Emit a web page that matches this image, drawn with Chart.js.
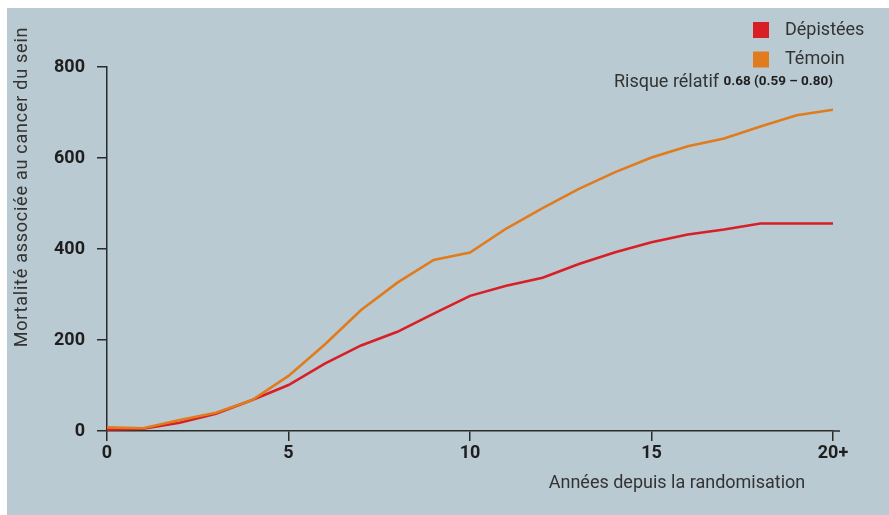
<!DOCTYPE html>
<html>
<head>
<meta charset="utf-8">
<script src="https://cdn.jsdelivr.net/npm/chart.js@4"></script>
<style>
html,body{margin:0;padding:0;background:#ffffff;}
#wrap{position:absolute;left:0;top:0;width:889px;height:515px;}
</style>
</head>
<body>
<div id="wrap"><canvas id="c" width="889" height="515"></canvas></div>
<script>
const years = [0,1,2,3,4,5,6,7,8,9,10,11,12,13,14,15,16,17,18,19,20];
const xTickLabels = {0:'0',5:'5',10:'10',15:'15',20:'20+'};
const yTicks = [0,200,400,600,800];
const depistees = [3,5,18,38,68,101,148,188,218,258,297,319,337,367,393,415,432,443,456,456,456];
const temoin = [8,6,24,40,68,121,190,266,326,376,392,445,490,532,569,601,626,643,669,694,706];
const seriesLabels = ['Dépistées','Témoin'];
const seriesColors = ['#d81f26','#e07b1e'];
const yTitle = 'Mortalité associée au cancer du sein';
const xTitle = 'Années depuis la randomisation';
const riskLabel = 'Risque rélatif';
const riskValue = '0.68 (0.59 – 0.80)';

const TXT = '#333333';
const AX = '#2a2a2a';

const deco = {
  id:'deco',
  beforeDraw(chart){
    const ctx = chart.ctx;
    ctx.save();
    ctx.fillStyle = '#bacad2';
    ctx.fillRect(7,8,882,507);
    ctx.restore();
  },
  afterDraw(chart){
    const ctx = chart.ctx;
    const xs = chart.scales.x, ys = chart.scales.y;
    ctx.save();
    ctx.strokeStyle = AX; ctx.lineWidth = 1.5;
    ctx.beginPath();
    ctx.moveTo(xs.right, ys.bottom); ctx.lineTo(xs.right+7, ys.bottom);
    ctx.stroke();
    // y title
    ctx.fillStyle = TXT;
    ctx.font = '18px Roboto';
    try { ctx.letterSpacing = '0.75px'; } catch(e){}
    ctx.textAlign = 'center'; ctx.textBaseline = 'middle';
    ctx.translate(22,187); ctx.rotate(-Math.PI/2);
    ctx.fillText(yTitle,0,0);
    ctx.restore();
    ctx.save();
    ctx.fillStyle = TXT;
    ctx.font = '18px Roboto';
    ctx.textAlign = 'center'; ctx.textBaseline = 'middle';
    ctx.fillText(xTitle,677,483);
    // legend
    ctx.textAlign = 'left';
    chart.data.datasets.forEach((ds,i)=>{
      const y = 30 + i*29.5;
      ctx.fillStyle = ds.borderColor;
      ctx.fillRect(753,y-8,16,16);
      ctx.fillStyle = TXT;
      ctx.font = '18px Roboto';
      ctx.fillText(ds.label,785,y);
    });
    // risk text
    ctx.textAlign = 'right';
    ctx.font = 'bold 13.5px Roboto';
    ctx.fillStyle = '#1e1e1e';
    const vw = ctx.measureText(riskValue).width;
    ctx.fillText(riskValue,833,82);
    ctx.font = '18px Roboto';
    ctx.fillStyle = TXT;
    ctx.fillText(riskLabel+' ',833-vw,82);
    ctx.restore();
  }
};

new Chart(document.getElementById('c'),{
  type:'line',
  data:{
    labels: years,
    datasets:[
      {label:seriesLabels[0], data:years.map((x,i)=>({x:x,y:depistees[i]})), borderColor:seriesColors[0], backgroundColor:seriesColors[0], borderWidth:2.6, pointRadius:0, tension:0, order:1},
      {label:seriesLabels[1], data:years.map((x,i)=>({x:x,y:temoin[i]})), borderColor:seriesColors[1], backgroundColor:seriesColors[1], borderWidth:2.6, pointRadius:0, tension:0, order:0}
    ]
  },
  options:{
    responsive:false,
    animation:false,
    devicePixelRatio:1,
    layout:{padding:{top:67,right:56,left:0,bottom:0}},
    plugins:{legend:{display:false},tooltip:{enabled:false}},
    scales:{
      x:{
        type:'linear', min:0, max:20,
        afterBuildTicks(s){ s.ticks = Object.keys(xTickLabels).map(v=>({value:+v})); },
        afterFit(s){ s.height = 515-431; },
        ticks:{ callback:(v)=>xTickLabels[v] ?? '', color:'#1e1e1e', font:{family:'Roboto',size:18,weight:'bold'}, padding:2, maxRotation:0, autoSkip:false },
        grid:{ drawOnChartArea:false, drawTicks:true, tickLength:10, color:AX, lineWidth:1.5 },
        border:{ display:true, color:AX, width:1.5 }
      },
      y:{
        type:'linear', min:0, max:800,
        afterBuildTicks(s){ s.ticks = yTicks.map(v=>({value:v})); },
        afterFit(s){ s.width = 107; },
        ticks:{ color:'#1e1e1e', font:{family:'Roboto',size:18,weight:'bold'}, padding:12 },
        grid:{ drawOnChartArea:false, drawTicks:true, tickLength:10, color:AX, lineWidth:1.5 },
        border:{ display:true, color:AX, width:1.5 }
      }
    }
  },
  plugins:[deco]
});
</script>
</body>
</html>
